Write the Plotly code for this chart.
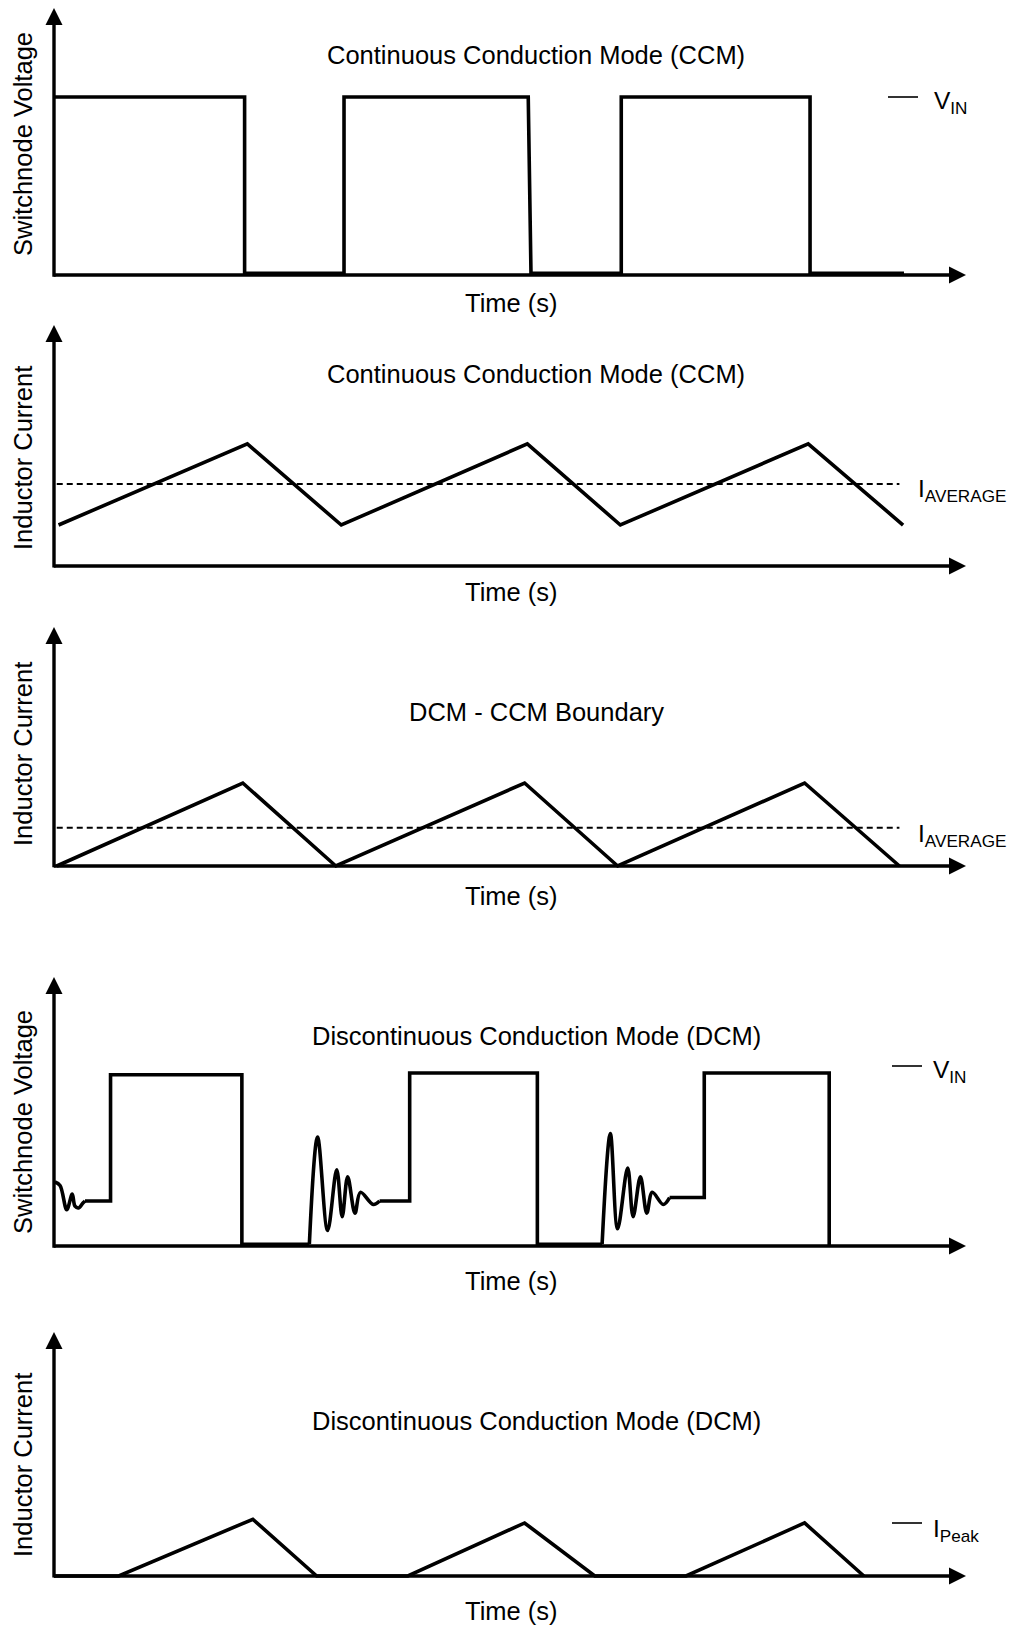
import plotly.graph_objects as go

W, H = 1013, 1626

# ---------------- data (time in arbitrary units, 0..100 along the time axis) ----------------
# Panel 1: CCM switch-node voltage (normalised to VIN)
ccm_sw_t = [0.0, 20.9, 20.9, 31.8, 31.8, 52.0, 52.3, 62.2, 62.2, 82.9, 82.9, 93.2]
ccm_sw_v = [1.0, 1.0, 0.01, 0.01, 1.0, 1.0, 0.01, 0.01, 1.0, 1.0, 0.01, 0.01]

# Panel 2: CCM inductor current (normalised to I_AVERAGE)
ccm_il_t = [0.5, 21.2, 31.5, 51.9, 62.1, 82.7, 93.1]
ccm_il_i = [0.5, 1.49, 0.5, 1.49, 0.5, 1.49, 0.5]
ccm_avg_t = [0.3, 92.7]
ccm_avg_i = [1.0, 1.0]

# Panel 3: DCM-CCM boundary inductor current (normalised to peak)
bnd_il_t = [0.3, 20.7, 30.9, 51.6, 61.8, 82.3, 92.7]
bnd_il_i = [0.0, 1.0, 0.0, 1.0, 0.0, 1.0, 0.0]
bnd_avg_t = [0.3, 92.7]
bnd_avg_i = [0.46, 0.46]

# Panel 4: DCM switch-node voltage (normalised to VIN)
dcm_ring0_t = [0.1, 0.66, 1.4, 2.0, 2.3, 2.7, 3.2, 3.4]
dcm_ring0_v = [0.37, 0.35, 0.21, 0.30, 0.23, 0.22, 0.25, 0.26]
dcm_sq1_t = [3.4, 6.2, 6.2, 20.6, 20.6, 28.0]
dcm_sq1_v = [0.26, 0.26, 0.99, 0.99, 0.01, 0.01]
dcm_ring1_t = [28.0, 28.9, 30.0, 31.0, 31.6, 32.2, 33.0, 33.6, 35.0, 35.7]
dcm_ring1_v = [0.01, 0.63, 0.09, 0.44, 0.17, 0.40, 0.19, 0.31, 0.24, 0.26]
dcm_sq2_t = [35.7, 39.0, 39.0, 53.0, 53.0, 60.1]
dcm_sq2_v = [0.26, 0.26, 1.0, 1.0, 0.01, 0.01]
dcm_ring2_t = [60.1, 61.0, 61.8, 62.9, 63.5, 64.3, 65.0, 65.6, 66.8, 67.5]
dcm_ring2_v = [0.01, 0.65, 0.10, 0.45, 0.17, 0.40, 0.19, 0.31, 0.24, 0.28]
dcm_sq3_t = [67.5, 71.3, 71.3, 85.0, 85.0]
dcm_sq3_v = [0.28, 0.28, 1.0, 1.0, 0.0]

# Panel 5: DCM inductor current (normalised to I_Peak)
dcm_il_t = [0.0, 7.1, 21.8, 28.8, 38.8, 51.6, 59.3, 69.3, 82.3, 88.8]
dcm_il_i = [0.0, 0.0, 1.07, 0.0, 0.0, 1.0, 0.0, 0.0, 1.0, 0.0]

titles = ["Continuous Conduction Mode (CCM)", "Continuous Conduction Mode (CCM)",
          "DCM - CCM Boundary", "Discontinuous Conduction Mode (DCM)",
          "Discontinuous Conduction Mode (DCM)"]
ylabels = ["Switchnode Voltage", "Inductor Current", "Inductor Current",
           "Switchnode Voltage", "Inductor Current"]
xlabel = "Time (s)"
level_texts = ["V<sub>IN</sub>", "I<sub>AVERAGE</sub>", "I<sub>AVERAGE</sub>",
               "V<sub>IN</sub>", "I<sub>Peak</sub>"]

# ---------------- layout geometry (pixels) ----------------
FONT = "Liberation Sans, Arial, sans-serif"
FS = 25.5
LW = 3.6
X0_PX, X100_PX = 54, 966
# (pixel of y=0, pixel of top, top value, title y px, xlabel y px, ylabel centre px)
panels = [
    (275, 8, 1.5, 55, 303, 144),
    (566, 325, 2.94, 374, 592, 458),
    (866, 627, 2.88, 712, 896, 754),
    (1246, 977, 1.555, 1036, 1281, 1122),
    (1576, 1332, 4.6, 1421, 1611, 1465),
]

fig = go.Figure()


def add(t, v, k, shape="linear", dash=None, width=LW):
    fig.add_trace(go.Scatter(
        x=t, y=v, mode="lines", xaxis=f"x{k if k > 1 else ''}", yaxis=f"y{k if k > 1 else ''}",
        line=dict(color="black", width=width, shape=shape, dash=dash, smoothing=1.0),
        showlegend=False, hoverinfo="skip"))


add(ccm_sw_t, ccm_sw_v, 1)
add(ccm_avg_t, ccm_avg_i, 2, dash="6px,4px", width=2)
add(ccm_il_t, ccm_il_i, 2)
add(bnd_avg_t, bnd_avg_i, 3, dash="6px,4px", width=2)
add(bnd_il_t, bnd_il_i, 3)
add(dcm_ring0_t, dcm_ring0_v, 4, shape="spline")
add(dcm_sq1_t, dcm_sq1_v, 4)
add(dcm_ring1_t, dcm_ring1_v, 4, shape="spline")
add(dcm_sq2_t, dcm_sq2_v, 4)
add(dcm_ring2_t, dcm_ring2_v, 4, shape="spline")
add(dcm_sq3_t, dcm_sq3_v, 4)
add(dcm_il_t, dcm_il_i, 5)

xscale = (X100_PX - X0_PX) / 100.0
xlo = -1.5
x_left_px = X0_PX + xlo * xscale

annotations = []
layout_axes = {}
for i, (p0, ptop, yhi, ty, xly, ylc) in enumerate(panels):
    k = i + 1
    sfx = "" if k == 1 else str(k)
    yscale = (p0 - ptop) / yhi
    ylo = -0.06 * yhi
    pbot = p0 - ylo * yscale
    layout_axes[f"xaxis{sfx}"] = dict(
        domain=[x_left_px / W, X100_PX / W], range=[xlo, 100], visible=False,
        anchor=f"y{sfx}", fixedrange=True)
    layout_axes[f"yaxis{sfx}"] = dict(
        domain=[(H - pbot) / H, (H - ptop) / H], range=[ylo, yhi], visible=False,
        anchor=f"x{sfx}", fixedrange=True)
    xr, yr = f"x{sfx}", f"y{sfx}"
    # axis arrows
    annotations.append(dict(x=0, y=yhi, ax=0, ay=-0.012 * yhi, xref=xr, yref=yr, axref=xr, ayref=yr,
                            text="", showarrow=True, arrowhead=2, arrowwidth=3.4, arrowsize=1.0,
                            arrowcolor="black", standoff=0))
    annotations.append(dict(x=100, y=0, ax=-0.19, ay=0, xref=xr, yref=yr, axref=xr, ayref=yr,
                            text="", showarrow=True, arrowhead=2, arrowwidth=3.4, arrowsize=1.0,
                            arrowcolor="black", standoff=0))
    annotations.append(dict(x=536 / W, y=(H - ty) / H, xref="paper", yref="paper",
                            text=titles[i], showarrow=False, xanchor="center", yanchor="middle",
                            font=dict(family=FONT, size=FS, color="black")))
    annotations.append(dict(x=512 / W, y=(H - xly) / H, xref="paper", yref="paper",
                            text=xlabel, showarrow=False, xanchor="center", yanchor="middle",
                            font=dict(family=FONT, size=FS, color="black")))
    annotations.append(dict(x=23 / W, y=(H - ylc) / H, xref="paper", yref="paper",
                            text=ylabels[i], showarrow=False, textangle=-90,
                            xanchor="center", yanchor="middle",
                            font=dict(family=FONT, size=FS, color="black")))

# level labels
level_pos = [(932, 102), (916, 490), (916, 835), (931, 1071), (931, 1530)]
for txt, (lx, ly) in zip(level_texts, level_pos):
    annotations.append(dict(x=lx / W, y=(H - ly) / H, xref="paper", yref="paper", text=txt,
                            showarrow=False, xanchor="left", yanchor="middle",
                            font=dict(family=FONT, size=24.5, color="black")))

shapes = []
for x1, x2, yy in [(888, 918, 97), (892, 922, 1066), (892, 922, 1523)]:
    shapes.append(dict(type="line", xref="paper", yref="paper", x0=x1 / W, x1=x2 / W,
                       y0=(H - yy) / H, y1=(H - yy) / H, line=dict(color="black", width=1.6)))

fig.update_layout(
    width=W, height=H, margin=dict(l=0, r=0, t=0, b=0),
    paper_bgcolor="white", plot_bgcolor="white",
    annotations=annotations, shapes=shapes, showlegend=False,
    **layout_axes)

fig.write_html("out.html", config={"displayModeBar": False, "staticPlot": True},
               post_script="document.body.style.margin='0';document.body.style.overflow='hidden';")
